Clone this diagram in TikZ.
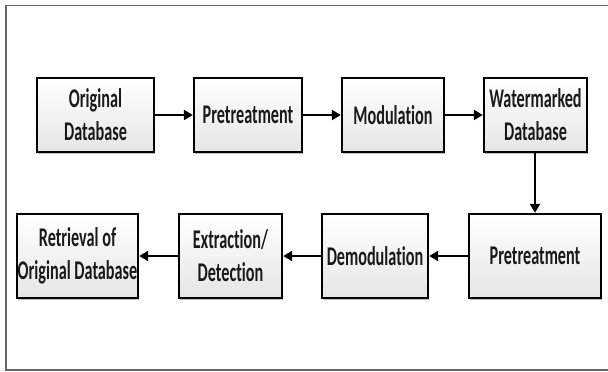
\documentclass[tikz,border=0pt]{standalone}
\usepackage{fontspec}
\usetikzlibrary{arrows.meta,shadows}
\newfontfamily\lblfont[FakeStretch=0.6,Ligatures=NoCommon]{Carlito}
\begin{document}
\begin{tikzpicture}[x=1pt,y=-1pt,
  blk/.style={draw=black, line width=2.4pt, rectangle, inner sep=0pt,
    top color=white, bottom color=black!10, align=center,
    font=\lblfont\bfseries\fontsize{27}{33}\selectfont, text=black!90,
    drop shadow={shadow xshift=1.2pt, shadow yshift=-1.5pt, opacity=0.25, fill=black}},
  arr/.style={line width=2.2pt, -{Triangle[length=9pt,width=10pt]}},
  frame/.style={draw=black!60, line width=1.5pt}]
\useasboundingbox (0,0) rectangle (608,372);
\draw[frame] (608,5.5) -- (6,5.5) -- (6,370) -- (608,370);
\newcommand{\bx}[6]{\node[blk, minimum width=#4-#2, minimum height=#5-#3] (#1) at ({(#2+#4)/2},{(#3+#5)/2}) {#6};}
\bx{b1}{37}{78}{154}{152}{Original\\Database}
\bx{b2}{194}{78}{302}{152}{Pretreatment}
\bx{b3}{342}{78}{444}{152}{Modulation}
\bx{b4}{484}{78}{587}{152}{Watermarked\\Database}
\bx{b5}{469}{214}{601}{298}{Pretreatment}
\bx{b6}{322}{214}{428}{298}{Demodulation}
\bx{b7}{179}{214}{282}{298}{Extraction/\\Detection}
\bx{b8}{17}{214}{138}{298}{Retrieval of\\Original Database}
\draw[arr] (b1) -- (b2);
\draw[arr] (b2) -- (b3);
\draw[arr] (b3) -- (b4);
\draw[arr] (b4.south -| 535,0) -- (b5.north -| 535,0);
\draw[arr] (b5) -- (b6);
\draw[arr] (b6) -- (b7);
\draw[arr] (b7) -- (b8);
\end{tikzpicture}
\end{document}
